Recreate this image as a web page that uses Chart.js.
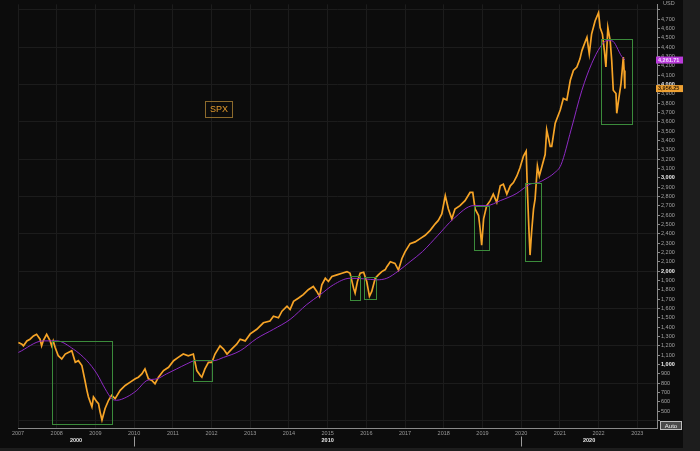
<!DOCTYPE html>
<html><head><meta charset="utf-8">
<script src="https://cdn.jsdelivr.net/npm/chart.js@4/dist/chart.umd.min.js"></script>
<style>
html,body{margin:0;padding:0;background:#1d1d1d;overflow:hidden;width:700px;height:451px}
#panel{position:absolute;left:0;top:0;width:683px;height:448px;background:#0c0c0c}
#wrap{position:absolute;left:0;top:0;width:700px;height:451px}
</style></head><body>
<div id="panel"></div>
<div id="wrap"><canvas id="c" width="700" height="451"></canvas></div>
<script>
// ---- data ----
const priceYears = [2007.01,2007.10,2007.14,2007.23,2007.31,2007.40,2007.48,2007.57,2007.61,2007.65,
2007.74,2007.83,2007.87,2007.91,2007.96,2008.04,2008.13,2008.22,2008.30,2008.39,
2008.48,2008.56,2008.65,2008.73,2008.78,2008.82,2008.91,2008.95,2009.04,2009.08,
2009.12,2009.17,2009.25,2009.34,2009.42,2009.51,2009.64,2009.77,2009.90,2010.03,
2010.11,2010.20,2010.28,2010.37,2010.46,2010.54,2010.63,2010.76,2010.89,2011.02,
2011.14,2011.27,2011.40,2011.53,2011.62,2011.71,2011.75,2011.83,2011.92,2012.01,
2012.09,2012.22,2012.31,2012.40,2012.52,2012.65,2012.74,2012.87,2013.00,2013.17,
2013.34,2013.51,2013.60,2013.73,2013.82,2013.95,2014.03,2014.12,2014.25,2014.37,
2014.50,2014.63,2014.72,2014.79,2014.85,2014.94,2015.02,2015.11,2015.24,2015.37,
2015.50,2015.58,2015.67,2015.71,2015.77,2015.84,2015.93,2016.01,2016.08,2016.14,
2016.23,2016.31,2016.40,2016.49,2016.53,2016.62,2016.74,2016.83,2016.92,2017.00,
2017.13,2017.26,2017.39,2017.52,2017.65,2017.78,2017.86,2017.95,2018.04,2018.12,
2018.21,2018.29,2018.42,2018.55,2018.68,2018.75,2018.81,2018.90,2018.94,2018.98,
2019.03,2019.11,2019.20,2019.28,2019.37,2019.46,2019.54,2019.63,2019.72,2019.80,
2019.89,2019.97,2020.06,2020.13,2020.16,2020.20,2020.23,2020.27,2020.32,2020.36,
2020.42,2020.47,2020.54,2020.62,2020.66,2020.75,2020.79,2020.88,2021.01,2021.09,
2021.18,2021.27,2021.35,2021.44,2021.52,2021.57,2021.65,2021.70,2021.76,2021.82,
2021.91,2022.00,2022.04,2022.10,2022.15,2022.19,2022.24,2022.30,2022.34,2022.38,
2022.45,2022.47,2022.53,2022.58,2022.64,2022.66,2022.68];
const priceValues = [1236,1219,1201,1254,1272,1307,1325,1272,1201,1254,
1325,1254,1201,1254,1183,1095,1060,1113,1130,1148,
1024,1042,989,830,724,653,547,653,600,583,
494,406,530,618,671,636,724,777,812,848,
865,901,954,848,830,795,865,936,971,1042,
1077,1113,1095,1113,936,883,865,954,1024,1024,
1113,1201,1166,1113,1166,1219,1272,1254,1329,1378,
1448,1466,1519,1501,1572,1625,1590,1678,1713,1749,
1802,1837,1784,1731,1855,1925,1890,1943,1961,1978,
1996,1978,1819,1766,1890,1978,1989,1890,1731,1784,
1925,1961,1996,2018,2049,2102,2084,2013,2137,2208,
2296,2314,2349,2385,2438,2508,2544,2614,2809,2667,
2561,2667,2703,2756,2844,2844,2667,2597,2455,2279,
2561,2703,2756,2826,2738,2915,2932,2826,2915,2950,
3020,3109,3233,3286,2880,2455,2173,2420,2667,2773,
3127,3020,3127,3250,3515,3338,3338,3586,3727,3851,
3833,4045,4151,4187,4275,4363,4452,4505,4328,4540,
4681,4770,4610,4540,4363,4187,4610,4469,4256,3939,
3904,3692,3869,4010,4293,4151,3956];

const maYears = [2007.01,2007.65,2008.00,2008.43,2008.78,2009.04,2009.25,2009.42,2009.55,2009.81,
2010.07,2010.33,2010.59,2010.84,2011.10,2011.36,2011.58,2011.79,2012.05,2012.31,
2012.74,2013.17,2013.60,2014.03,2014.46,2014.81,2015.15,2015.58,2015.93,2016.27,
2016.53,2016.83,2017.13,2017.45,2017.85,2018.25,2018.77,2019.11,2019.46,2019.87,
2020.23,2020.45,2020.62,2020.85,2021.03,2021.29,2021.57,2021.82,2022.04,2022.21,
2022.34,2022.60,2022.68];
const maValues = [1130,1254,1254,1166,1042,901,742,636,618,653,
724,830,848,901,954,1007,1042,1042,1042,1077,
1148,1280,1378,1484,1643,1749,1855,1925,1919,1908,
1925,2003,2102,2210,2385,2561,2703,2703,2756,2830,
2932,2950,2986,3050,3140,3515,3939,4222,4399,4469,
4469,4300,4262];

// highlighted drawdown boxes (year span, value span)
const boxStart = [2007.87, 2011.53, 2015.58, 2015.94, 2018.77, 2020.10, 2022.06];
const boxEnd   = [2009.42, 2012.01, 2015.84, 2016.25, 2019.18, 2020.51, 2022.86];
const boxHigh  = [1254, 1053, 1951, 1933, 2703, 2950, 4487];
const boxLow   = [361, 820, 1696, 1707, 2226, 2109, 3579];

const lastPriceLabel = 3956.25;
const lastMaLabel = 4261.71;
const decadeLabels = ['2000','2010','2020'];
const decadeStarts = [2010, 2020];
const seriesName = 'SPX';
const currency = 'USD';

const FONT = 'Liberation Sans, Arial, sans-serif';

const overlay = {
  id: 'overlay',
  afterDatasetsDraw(chart) {
    const {ctx, scales: {x, y}} = chart;
    ctx.save();
    ctx.strokeStyle = '#3b8b3b';
    ctx.lineWidth = 1;
    for (let i = 0; i < boxStart.length; i++) {
      const x0 = Math.round(x.getPixelForValue(boxStart[i])) + 0.5;
      const x1 = Math.round(x.getPixelForValue(boxEnd[i])) + 0.5;
      const y0 = Math.round(y.getPixelForValue(boxHigh[i])) + 0.5;
      const y1 = Math.round(y.getPixelForValue(boxLow[i])) + 0.5;
      ctx.strokeRect(x0, y0, x1 - x0, y1 - y0);
    }
    ctx.restore();
  },
  afterDraw(chart) {
    const {ctx, scales: {x, y}, chartArea: ca} = chart;
    ctx.save();
    // series legend box
    ctx.strokeStyle = '#8c6a2c';
    ctx.lineWidth = 1;
    ctx.strokeRect(ca.left + 187.5, 101.5, 27, 16);
    ctx.fillStyle = '#e39a2c';
    ctx.font = '9px ' + FONT;
    ctx.textAlign = 'center';
    ctx.textBaseline = 'middle';
    ctx.fillText(seriesName, ca.left + 201, 110);

    // currency label
    ctx.fillStyle = '#a0a0a0';
    ctx.font = '5.5px ' + FONT;
    ctx.textAlign = 'left';
    ctx.fillText(currency, ca.right + 6, 3.5);

    // last value labels
    const tags = [[lastMaLabel, '#b93ad9', '#f3dcff'], [lastPriceLabel, '#eea133', '#2a1a06']];
    for (const [v, bg, fg] of tags) {
      const py = y.getPixelForValue(v);
      ctx.fillStyle = bg;
      ctx.fillRect(ca.right - 1, py - 3.5, 27, 7);
      ctx.fillStyle = fg;
      ctx.font = 'bold 5.5px ' + FONT;
      ctx.textAlign = 'left';
      ctx.fillText(v.toLocaleString('en-US', {minimumFractionDigits: 2}), ca.right + 1, py + 0.3);
    }

    // decade row
    const bounds = [x.min, ...decadeStarts, x.max];
    ctx.fillStyle = '#e6e6e6';
    ctx.font = 'bold 5.5px ' + FONT;
    ctx.textAlign = 'center';
    for (let i = 0; i < decadeLabels.length; i++) {
      const mid = (x.getPixelForValue(bounds[i]) + x.getPixelForValue(bounds[i + 1])) / 2;
      ctx.fillText(decadeLabels[i], mid, 440.5);
    }
    ctx.strokeStyle = '#9a9a9a';
    for (const d of decadeStarts) {
      const px = Math.round(x.getPixelForValue(d)) + 0.5;
      ctx.beginPath(); ctx.moveTo(px, 436.5); ctx.lineTo(px, 446.5); ctx.stroke();
    }

    // Auto button
    ctx.fillStyle = '#4a4a4a';
    ctx.fillRect(ca.right + 3, 421, 22, 9);
    ctx.strokeStyle = '#bdbdbd';
    ctx.strokeRect(ca.right + 3.5, 421.5, 21, 8);
    ctx.fillStyle = '#f0f0f0';
    ctx.font = '6px ' + FONT;
    ctx.textAlign = 'center';
    ctx.fillText('Auto', ca.right + 14, 426);
    ctx.restore();
  }
};

const pricePts = priceYears.map((t, i) => ({x: t, y: priceValues[i]}));
const maPts = maYears.map((t, i) => ({x: t, y: maValues[i]}));

new Chart(document.getElementById('c'), {
  type: 'line',
  data: {
    datasets: [
      {label: 'MA', data: maPts, borderColor: '#8e2bc4', borderWidth: 1, pointRadius: 0,
       cubicInterpolationMode: 'monotone'},
      {label: seriesName, data: pricePts, borderColor: '#f6a427', borderWidth: 1.7, pointRadius: 0,
       tension: 0}
    ]
  },
  options: {
    responsive: false,
    animation: false,
    events: [],
    layout: {padding: {left: 18, top: 0, right: 0, bottom: 0}, autoPadding: false},
    plugins: {legend: {display: false}, tooltip: {enabled: false}},
    scales: {
      x: {
        type: 'linear', min: 2007, max: 2023.51,
        afterFit(s) { s.height = 23; },
        ticks: {stepSize: 1, includeBounds: false, autoSkip: false, maxRotation: 0, padding: 2,
          color: '#9a9a9a', font: {size: 5.5, family: FONT},
          callback: v => Number.isInteger(v) ? String(v) : ''},
        grid: {color: '#1c1c1c', drawTicks: false, lineWidth: 1},
        border: {color: '#8a8a8a', width: 1}
      },
      y: {
        position: 'right', min: 321, max: 4859,
        afterFit(s) { s.width = 43; },
        ticks: {stepSize: 100, includeBounds: false, autoSkip: false, padding: 1,
          color: c => (c.tick && c.tick.value % 1000 === 0) ? '#eeeeee' : '#a3a3a3',
          font: c => ({size: 5.5, family: FONT, weight: (c.tick && c.tick.value % 1000 === 0) ? 'bold' : 'normal'}),
          callback: v => (v < 500 || v > 4700) ? '' : v.toLocaleString('en-US')},
        grid: {color: c => (c.tick && c.tick.value % 400 === 0) ? '#1c1c1c' : 'rgba(0,0,0,0)',
          tickColor: '#8a8a8a', tickLength: 3, drawTicks: true},
        border: {color: '#8a8a8a', width: 1}
      }
    }
  },
  plugins: [overlay]
});
</script>
</body></html>
